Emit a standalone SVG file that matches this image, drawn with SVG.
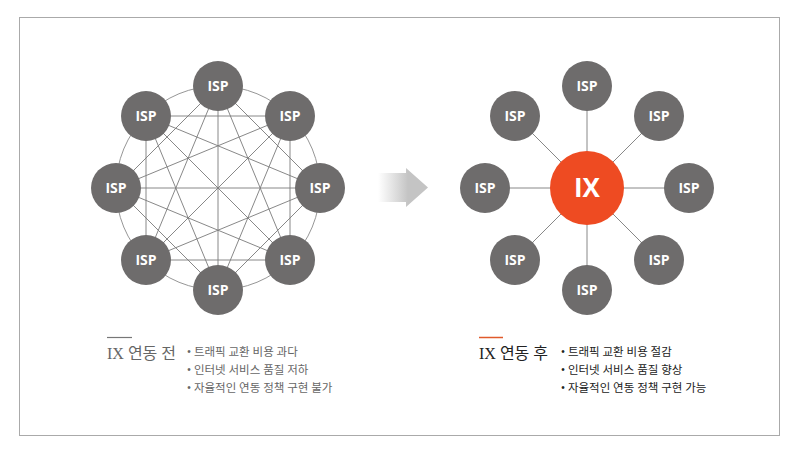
<svg xmlns="http://www.w3.org/2000/svg" width="800" height="452" viewBox="0 0 800 452">
<defs>
<linearGradient id="ag" x1="0" y1="0" x2="1" y2="0">
<stop offset="0" stop-color="#c8c8c8" stop-opacity="0"/>
<stop offset="0.6" stop-color="#c4c4c4" stop-opacity="1"/>
<stop offset="1" stop-color="#c4c4c4"/>
</linearGradient>
<style>
.isp circle{fill:#6e6c6c}
.isp text,.ix text{fill:#fff;font-family:"Open Sans","Noto Sans",sans-serif;font-weight:700;text-anchor:middle}
.isp text{font-size:14px}
.conn line{stroke:#7a7a7a;stroke-width:0.9}
.ring{fill:none;stroke:#8a8a8a;stroke-width:0.9}
.title{font-family:"Liberation Serif","Noto Sans CJK KR",serif;font-size:16px}
.bl{font-family:"Liberation Serif","Noto Sans CJK KR",serif;font-size:11.5px}
</style>
</defs>
<rect x="19.5" y="17.5" width="760" height="418" fill="#fff" stroke="#aaa" stroke-width="1"/>

<!-- left mesh connectors -->
<g id="mesh-connectors" class="conn">
<circle class="ring" cx="218" cy="188" r="102"/>
<line x1="218" y1="86" x2="320" y2="188"/><line x1="218" y1="86" x2="290" y2="260"/><line x1="218" y1="86" x2="218" y2="290"/><line x1="218" y1="86" x2="146" y2="260"/><line x1="218" y1="86" x2="116" y2="188"/>
<line x1="290" y1="116" x2="290" y2="260"/><line x1="290" y1="116" x2="218" y2="290"/><line x1="290" y1="116" x2="146" y2="260"/><line x1="290" y1="116" x2="116" y2="188"/><line x1="290" y1="116" x2="146" y2="116"/>
<line x1="320" y1="188" x2="218" y2="290"/><line x1="320" y1="188" x2="146" y2="260"/><line x1="320" y1="188" x2="116" y2="188"/><line x1="320" y1="188" x2="146" y2="116"/>
<line x1="290" y1="260" x2="146" y2="260"/><line x1="290" y1="260" x2="116" y2="188"/><line x1="290" y1="260" x2="146" y2="116"/>
<line x1="218" y1="290" x2="116" y2="188"/><line x1="218" y1="290" x2="146" y2="116"/>
<line x1="146" y1="260" x2="146" y2="116"/>
</g>

<!-- star connectors -->
<g id="star-connectors" class="conn">
<line x1="587" y1="188" x2="587" y2="86"/><line x1="587" y1="188" x2="659" y2="116"/><line x1="587" y1="188" x2="689" y2="188"/><line x1="587" y1="188" x2="659" y2="260"/><line x1="587" y1="188" x2="587" y2="290"/><line x1="587" y1="188" x2="515" y2="260"/><line x1="587" y1="188" x2="485" y2="188"/><line x1="587" y1="188" x2="515" y2="116"/>
</g>

<!-- left ISP nodes -->
<g id="l-isp-1" class="isp"><circle cx="218" cy="86" r="25"/><text x="218" y="91">ISP</text></g>
<g id="l-isp-2" class="isp"><circle cx="290" cy="116" r="25"/><text x="290" y="121">ISP</text></g>
<g id="l-isp-3" class="isp"><circle cx="320" cy="188" r="25"/><text x="320" y="193">ISP</text></g>
<g id="l-isp-4" class="isp"><circle cx="290" cy="260" r="25"/><text x="290" y="265">ISP</text></g>
<g id="l-isp-5" class="isp"><circle cx="218" cy="290" r="25"/><text x="218" y="295">ISP</text></g>
<g id="l-isp-6" class="isp"><circle cx="146" cy="260" r="25"/><text x="146" y="265">ISP</text></g>
<g id="l-isp-7" class="isp"><circle cx="116" cy="188" r="25"/><text x="116" y="193">ISP</text></g>
<g id="l-isp-8" class="isp"><circle cx="146" cy="116" r="25"/><text x="146" y="121">ISP</text></g>

<!-- arrow -->
<g id="arrow"><polygon points="378,173 406,173 406,168 428,187.5 406,207 406,202 378,202" fill="url(#ag)"/></g>

<!-- right nodes -->
<g id="ix" class="ix"><circle cx="587" cy="188" r="37" fill="#ee4b22"/><text x="587" y="197" font-size="26">IX</text></g>
<g id="r-isp-1" class="isp"><circle cx="587" cy="86" r="25"/><text x="587" y="91">ISP</text></g>
<g id="r-isp-2" class="isp"><circle cx="659" cy="116" r="25"/><text x="659" y="121">ISP</text></g>
<g id="r-isp-3" class="isp"><circle cx="689" cy="188" r="25"/><text x="689" y="193">ISP</text></g>
<g id="r-isp-4" class="isp"><circle cx="659" cy="260" r="25"/><text x="659" y="265">ISP</text></g>
<g id="r-isp-5" class="isp"><circle cx="587" cy="290" r="25"/><text x="587" y="295">ISP</text></g>
<g id="r-isp-6" class="isp"><circle cx="515" cy="260" r="25"/><text x="515" y="265">ISP</text></g>
<g id="r-isp-7" class="isp"><circle cx="485" cy="188" r="25"/><text x="485" y="193">ISP</text></g>
<g id="r-isp-8" class="isp"><circle cx="515" cy="116" r="25"/><text x="515" y="121">ISP</text></g>

<!-- left caption -->
<g id="before-caption">
<line x1="107" y1="337.5" x2="132" y2="337.5" stroke="#777" stroke-width="1.2"/>
<text class="title" x="107" y="359" fill="#666">IX 연동 전</text>
<g class="bl" fill="#666">
<text x="187" y="356">• 트래픽 교환 비용 과다</text>
<text x="187" y="374">• 인터넷 서비스 품질 저하</text>
<text x="187" y="392">• 자율적인 연동 정책 구현 불가</text>
</g>
</g>

<!-- right caption -->
<g id="after-caption">
<line x1="479" y1="337.5" x2="503" y2="337.5" stroke="#e05a2b" stroke-width="1.5"/>
<text class="title" x="479" y="359" fill="#222">IX 연동 후</text>
<g class="bl" fill="#222">
<text x="561" y="356">• 트래픽 교환 비용 절감</text>
<text x="561" y="374">• 인터넷 서비스 품질 향상</text>
<text x="561" y="392">• 자율적인 연동 정책 구현 가능</text>
</g>
</g>
</svg>
